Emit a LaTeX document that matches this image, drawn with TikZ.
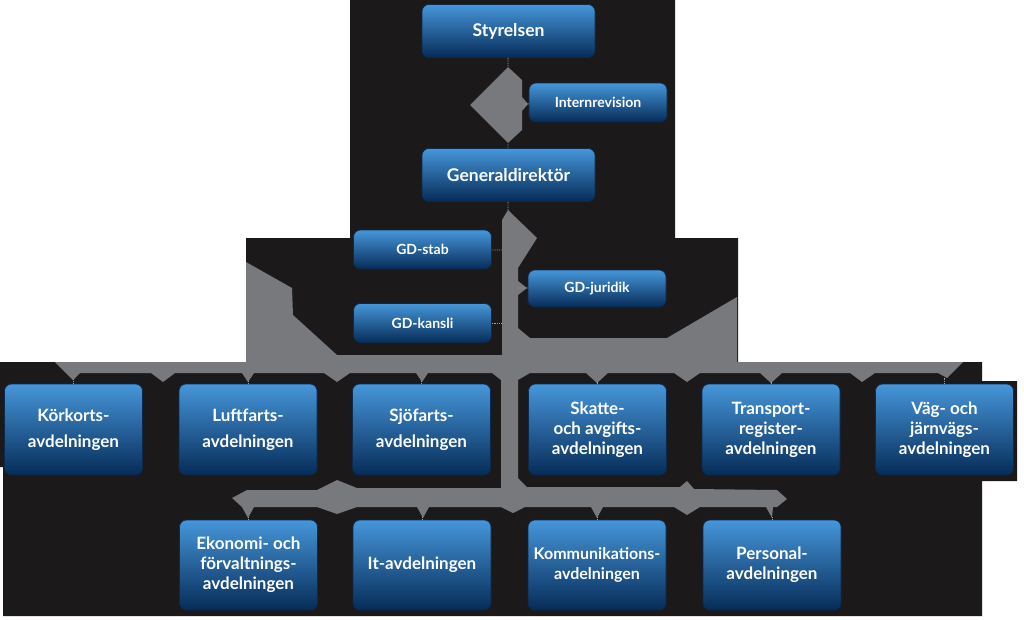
\documentclass[tikz,border=0pt]{standalone}
\usepackage{fontspec}
\setmainfont{Lato}

\definecolor{bg}{RGB}{28,25,27}
\definecolor{link}{RGB}{120,121,124}
\definecolor{boxtop}{RGB}{70,150,218}
\definecolor{boxmid}{RGB}{18,94,168}
\definecolor{boxbot}{RGB}{6,44,88}
\definecolor{boxedge}{RGB}{12,42,78}

\tikzset{
  avd/.style={rounded corners=7pt, draw=boxedge, line width=0.6pt,
    top color=boxtop, middle color=boxmid, bottom color=boxbot,
    text=white, align=center, inner sep=0pt,
    minimum width=138pt, minimum height=91pt,
    font=\fontsize{17}{20}\selectfont\bfseries},
  avdwide/.style={avd, font=\fontsize{17}{26}\selectfont\bfseries},
  topbox/.style={avd, minimum width=173pt, minimum height=53pt,
    font=\fontsize{17.5}{20}\selectfont\bfseries},
  smallbox/.style={avd, minimum height=39pt,
    font=\fontsize{14}{16}\selectfont\bfseries},
  dotlink/.style={link!70!white, densely dotted, line width=0.8pt}
}

\begin{document}
\begin{tikzpicture}[x=1pt,y=-1pt]
  \useasboundingbox (0,0) rectangle (1024,619);
  \fill[white] (0,0) rectangle (1024,619);
  % black backdrop
  \fill[bg] (350,0) -- (675,0) -- (675,238) -- (738,238) -- (738,362)
        -- (982,362) -- (982,381) -- (1017,381) -- (1017,481) -- (982,481)
        -- (982,616) -- (3,616) -- (3,467) -- (0,467) -- (0,362)
        -- (246,362) -- (246,238) -- (350,238) -- cycle;
  % grey connector areas
  \fill[link] (508,67) -- (522,80) -- (522,97) -- (528,104) -- (522,111)
        -- (522,130) -- (508,143) -- (470,105) -- cycle;
  \fill[link] (508,210) -- (537,238) -- (518,268) -- (518,281) -- (527,288)
        -- (518,295) -- (518,328) -- (530,338) -- (667,338) -- (737,297)
        -- (737,362) -- (963,362) -- (947,378) -- (938,373) -- (875,373)
        -- (862,382) -- (850,373) -- (782,373) -- (771,383) -- (760,373)
        -- (700,373) -- (687,382) -- (674,373) -- (608,373) -- (597,383)
        -- (586,373) -- (530,373) -- (518,380) -- (518,478) -- (527,487)
        -- (680,487) -- (687,481) -- (694,489) -- (777,490) -- (787,499)
        -- (777,507) -- (773,507) -- (772,518) -- (766,507) -- (700,507)
        -- (687,515) -- (674,507) -- (603,507) -- (597,518) -- (591,507)
        -- (525,507) -- (513,513) -- (501,507) -- (429,507) -- (423,518)
        -- (417,507) -- (357,507) -- (337,514) -- (317,507) -- (254,507)
        -- (248,518) -- (242,507) -- (232,498) -- (247,490) -- (317,490)
        -- (337,480) -- (357,488) -- (501,488) -- (501,380) -- (492,373)
        -- (428,373) -- (422,382) -- (416,373) -- (350,373) -- (337,382)
        -- (324,373) -- (254,373) -- (248,382) -- (242,373) -- (175,373)
        -- (163,382) -- (151,373) -- (80,373) -- (73,380) -- (55,362)
        -- (246,362) -- (246,262) -- (292,288) -- (293,315) -- (337,355)
        -- (502,355) -- (502,220) -- cycle;

  % ledning
  \node[topbox] (styr) at (508.5,31) {Styrelsen};
  \node[smallbox] (intrev) at (598,102.5) {Internrevision};
  \node[topbox] (gd) at (508.5,175) {Generaldirektör};
  \node[smallbox] (gdstab) at (422.5,249.5) {GD-stab};
  \node[smallbox] (gdkansli) at (422.5,323) {GD-kansli};
  \node[smallbox, minimum height=37pt] (gdjur) at (597,288.5) {GD-juridik};

  % avdelningar, rad 1
  \node[avdwide] (kork) at (73.5,429.5) {Körkorts-\\avdelningen};
  \node[avdwide] (luft) at (248,429.5) {Luftfarts-\\avdelningen};
  \node[avdwide] (sjo) at (421.5,429.5) {Sjöfarts-\\avdelningen};
  \node[avd] (skatt) at (597.5,429.5) {Skatte-\\och avgifts-\\avdelningen};
  \node[avd] (trans) at (771,429.5) {Transport-\\register-\\avdelningen};
  \node[avd] (vag) at (944.5,429.5) {Väg- och\\järnvägs-\\avdelningen};

  % avdelningar, rad 2
  \node[avd, minimum height=90pt] (ekon) at (248.5,565) {Ekonomi- och\\förvaltnings-\\avdelningen};
  \node[avd, minimum height=90pt] (it) at (422,565) {It-avdelningen};
  \node[avd, minimum height=90pt, font=\fontsize{16}{20}\selectfont\bfseries] (komm) at (597,565) {Kommunikations-\\avdelningen};
  \node[avd, minimum height=90pt] (pers) at (772,565) {Personal-\\avdelningen};

  % prickade anslutningar
  \coordinate (d1) at (508,67);
  \coordinate (d2) at (508,143);
  \coordinate (d3) at (522,104);
  \coordinate (c1) at (508,210);
  \coordinate (c2) at (502,250);
  \coordinate (c3) at (502,323);
  \coordinate (c4) at (518,288);
  \draw[dotlink] (styr) -- (d1);
  \draw[dotlink] (gd) -- (d2);
  \draw[dotlink] (intrev) -- (d3);
  \draw[dotlink] (gd) -- (c1);
  \draw[dotlink] (gdstab) -- (c2);
  \draw[dotlink] (gdkansli) -- (c3);
  \draw[dotlink] (gdjur) -- (c4);
  \draw[dotlink] (kork.north) -- ++(0,-5);
  \draw[dotlink] (luft.north) -- ++(0,-3);
  \draw[dotlink] (sjo.north) -- ++(0,-3);
  \draw[dotlink] (skatt.north) -- ++(0,-2);
  \draw[dotlink] (trans.north) -- ++(0,-2);
  \draw[dotlink] (vag.north) -- ++(0,-7);
  \draw[dotlink] (ekon.north) -- ++(0,-3);
  \draw[dotlink] (it.north) -- ++(0,-3);
  \draw[dotlink] (komm.north) -- ++(0,-3);
  \draw[dotlink] (pers.north) -- ++(0,-3);
\end{tikzpicture}
\end{document}
